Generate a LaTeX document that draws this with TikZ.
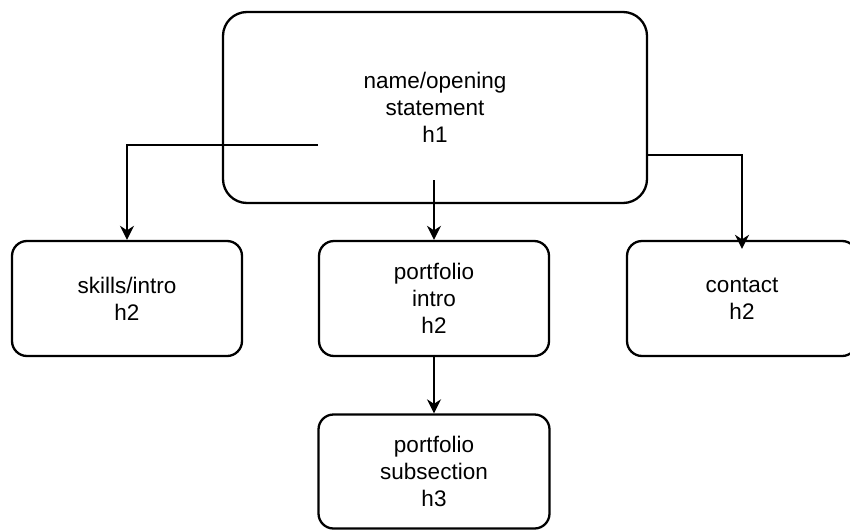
\documentclass[tikz,border=0pt]{standalone}
\usepackage{fontspec}
\setmainfont{Liberation Sans}
\usetikzlibrary{arrows.meta}
\begin{document}
\begin{tikzpicture}[x=1pt,y=-1pt,
  box/.style={draw, line width=2.3pt, rounded corners=15pt, align=center,
    inner sep=0pt, font=\fontsize{22.5}{27}\selectfont},
  conn/.style={line width=2.3pt, -{Stealth[length=14pt,width=14pt,inset=4.5pt]}}]
\useasboundingbox (0,0) rectangle (850,530);
\node[box, rounded corners=24pt, minimum width=424pt, minimum height=191pt] (top) at (435,107.5) {name/opening\\statement\\h1};
\node[box, minimum width=230pt, minimum height=115pt] (skills) at (127,298.5) {skills/intro\\h2};
\node[box, minimum width=230pt, minimum height=115pt] (intro) at (434,298.5) {portfolio\\intro\\h2};
\node[box, minimum width=230pt, minimum height=115pt] (contact) at (742,298.5) {contact\\h2};
\node[box, minimum width=231pt, minimum height=114pt] (sub) at (434,471.5) {portfolio\\subsection\\h3};
\coordinate (c1) at (318,145);
\coordinate (c2) at (434,180);
\coordinate (c3) at (647,155);
\draw[conn] (c1) -| (skills.north);
\draw[conn] (c2) -- (intro.north);
\draw[conn, shorten >=-9pt] (c3) -| (contact.north);
\draw[conn] (intro.south) -- (sub.north);
\end{tikzpicture}
\end{document}
